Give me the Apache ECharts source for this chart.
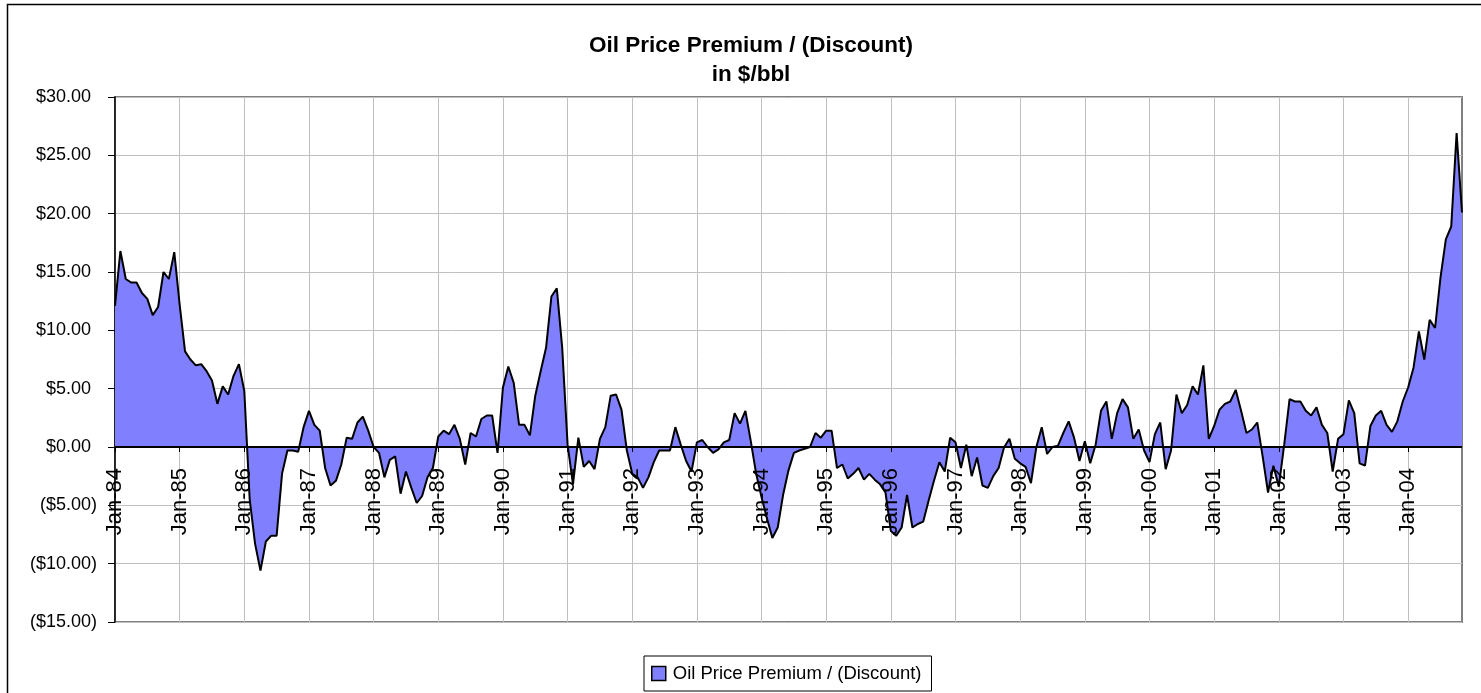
<!DOCTYPE html>
<html lang="en">
<head>
    <meta charset="UTF-8">
    <title>Oil Price Premium / (Discount)</title>
    <script src="https://cdn.jsdelivr.net/npm/echarts@6.0.0/dist/echarts.min.js"></script>
    <style>
        html, body { margin: 0; padding: 0; background: #fff; }
        #main { width: 1481px; height: 693px; }
    </style>
</head>
<body>
<div id="main"></div>
<script type="text/javascript">
    // monthly values, $/bbl (Jan-84 .. Nov-04)
    const v1984 = [12.1, 16.8, 14.4, 14.1, 14.1, 13.2, 12.7, 11.3, 12.0, 15.0, 14.4, 16.7];
    const v1985 = [12.2, 8.2, 7.5, 7.0, 7.1, 6.5, 5.7, 3.7, 5.2, 4.5, 6.1, 7.1];
    const v1986 = [4.8, -4.5, -8.3, -10.6, -8.1, -7.6, -7.6, -2.3, -0.3, -0.3, -0.4, 1.7];
    const v1987 = [3.1, 1.9, 1.4, -1.8, -3.3, -2.9, -1.5, 0.8, 0.7, 2.1, 2.6, 1.4];
    const v1988 = [0.0, -0.5, -2.6, -1.1, -0.8, -4.0, -2.1, -3.5, -4.8, -4.2, -2.6, -1.8];
    const v1989 = [0.9, 1.4, 1.1, 1.9, 0.7, -1.5, 1.2, 0.9, 2.4, 2.7, 2.7, -0.5];
    const v1990 = [5.1, 6.9, 5.5, 1.9, 1.9, 1.0, 4.4, 6.5, 8.5, 12.9, 13.6, 8.5];
    const v1991 = [0.2, -3.2, 0.8, -1.7, -1.2, -1.9, 0.7, 1.7, 4.4, 4.5, 3.2, -0.3];
    const v1992 = [-2.3, -2.6, -3.5, -2.6, -1.3, -0.3, -0.3, -0.3, 1.7, 0.2, -1.2, -2.1];
    const v1993 = [0.4, 0.6, 0.0, -0.5, -0.2, 0.4, 0.6, 2.9, 2.0, 3.1, 0.5, -2.3];
    const v1994 = [-4.3, -6.1, -7.8, -6.9, -4.1, -2.0, -0.5, -0.3, -0.15, 0.0, 1.2, 0.8];
    const v1995 = [1.4, 1.4, -1.8, -1.5, -2.7, -2.3, -1.8, -2.8, -2.3, -2.8, -3.2, -3.9];
    const v1996 = [-7.2, -7.6, -6.9, -4.1, -6.9, -6.6, -6.4, -4.6, -2.9, -1.3, -2.1, 0.8];
    const v1997 = [0.4, -1.8, 0.2, -2.5, -0.9, -3.3, -3.5, -2.5, -1.8, -0.05, 0.7, -1.0];
    const v1998 = [-1.4, -1.7, -3.1, 0.0, 1.7, -0.6, 0.0, 0.1, 1.2, 2.2, 0.8, -1.2];
    const v1999 = [0.5, -1.4, 0.2, 3.1, 3.9, 0.7, 2.9, 4.1, 3.4, 0.7, 1.5, -0.3];
    const v2000 = [-1.3, 1.1, 2.1, -1.9, -0.3, 4.5, 2.9, 3.6, 5.2, 4.5, 7.0, 0.7];
    const v2001 = [1.8, 3.2, 3.7, 3.9, 4.9, 3.1, 1.2, 1.5, 2.1, -0.8, -3.9, -1.6];
    const v2002 = [-3.4, 0.2, 4.1, 3.9, 3.9, 3.1, 2.7, 3.4, 1.9, 1.2, -2.1, 0.7];
    const v2003 = [1.1, 4.0, 2.9, -1.4, -1.6, 1.8, 2.7, 3.1, 1.9, 1.3, 2.2, 3.9];
    const v2004 = [5.1, 6.8, 9.9, 7.5, 10.9, 10.2, 14.5, 17.8, 18.9, 26.9, 20.1];

    const monthNames = ['Jan', 'Feb', 'Mar', 'Apr', 'May', 'Jun', 'Jul', 'Aug', 'Sep', 'Oct', 'Nov', 'Dec'];
    const firstYear = 1984;
    const seriesName = 'Oil Price Premium / (Discount)';
    const yMin = -15, yMax = 30, yStep = 5;

    const values = [].concat(v1984, v1985, v1986, v1987, v1988, v1989, v1990, v1991, v1992, v1993,
        v1994, v1995, v1996, v1997, v1998, v1999, v2000, v2001, v2002, v2003, v2004);

    // category labels like "Jan-84"
    const months = values.map((v, i) => {
        const yy = String((firstYear + Math.floor(i / 12)) % 100).padStart(2, '0');
        return monthNames[i % 12] + '-' + yy;
    });

    const FONT = 'Liberation Sans, Arial, sans-serif';
    const gridTop = 97, gridBottom = 71;
    const gridHeight = 693 - gridTop - gridBottom;
    // the date axis sits on the $0 line, not at the bottom of the plot
    const zeroOffset = -gridHeight * (0 - yMin) / (yMax - yMin);

    function money(v) {
        if (v < 0) return '{n|($' + (-v).toFixed(2) + ')}';
        return '{p|$' + v.toFixed(2) + '}';
    }

    var chart = echarts.init(document.getElementById('main'));
    var option = {
        animation: false,
        backgroundColor: '#fff',
        textStyle: { fontFamily: FONT, color: '#000' },
        title: {
            text: 'Oil Price Premium / (Discount)\nin $/bbl',
            left: 746,
            top: 26,
            textAlign: 'center',
            textStyle: {
                fontFamily: FONT,
                fontWeight: 'bold',
                fontSize: 22.5,
                lineHeight: 29,
                color: '#000'
            }
        },
        legend: {
            data: [seriesName],
            left: 644,
            top: 656,
            padding: [8, 10, 8, 7],
            icon: 'rect',
            itemWidth: 14,
            itemHeight: 14,
            borderColor: '#000',
            borderWidth: 1,
            itemStyle: { color: '#8080FF', borderColor: '#000', borderWidth: 1.5 },
            textStyle: { fontFamily: FONT, fontSize: 18.5, color: '#000', padding: [0, 0, 0, 2] }
        },
        grid: {
            left: 115,
            right: 19,
            top: gridTop,
            bottom: gridBottom,
            outerBoundsMode: 'none',
            containLabel: false,
            show: true,
            borderColor: '#808080',
            borderWidth: 2,
            backgroundColor: '#fff'
        },
        xAxis: [
            {
                // gridlines only, kept under the filled area
                type: 'category',
                data: months,
                boundaryGap: false,
                position: 'bottom',
                offset: zeroOffset,
                axisLine: { show: false, onZero: false },
                axisTick: { show: false },
                axisLabel: { show: false },
                splitLine: { show: true, interval: 11, lineStyle: { color: '#c0c0c0', width: 1 } }
            },
            {
                // ticks and date labels, drawn over the area like the original
                type: 'category',
                data: months,
                boundaryGap: false,
                position: 'bottom',
                offset: zeroOffset,
                z: 10,
                axisLine: { show: false, onZero: false },
                axisTick: { show: true, interval: 11, length: 5, lineStyle: { color: '#000' } },
                axisLabel: {
                    interval: 11,
                    rotate: 90,
                    margin: 21,
                    fontFamily: FONT,
                    fontSize: 22,
                    color: '#000'
                },
                splitLine: { show: false }
            }
        ],
        yAxis: {
            type: 'value',
            min: yMin,
            max: yMax,
            interval: yStep,
            axisLine: { show: true, lineStyle: { color: '#000', width: 1.5 } },
            axisTick: { show: true, length: 7, lineStyle: { color: '#000' } },
            axisLabel: {
                margin: 18,
                formatter: money,
                rich: {
                    p: { fontFamily: FONT, fontSize: 18, color: '#000', padding: [0, 6, 0, 0] },
                    n: { fontFamily: FONT, fontSize: 18, color: '#000' }
                }
            },
            splitLine: { show: true, lineStyle: { color: '#c0c0c0', width: 1 } }
        },
        series: [
            {
                name: seriesName,
                type: 'line',
                xAxisIndex: 0,
                data: values,
                color: '#8080FF',
                symbol: 'none',
                lineStyle: { color: '#000', width: 2 },
                areaStyle: { color: '#8080FF', opacity: 1, origin: 'auto' },
                markLine: {
                    silent: true,
                    symbol: 'none',
                    label: { show: false },
                    lineStyle: { color: '#000', width: 2, type: 'solid' },
                    data: [{ yAxis: 0 }]
                }
            }
        ],
        graphic: [
            {
                type: 'rect',
                shape: { x: 7.5, y: 4.5, width: 1490, height: 710 },
                style: { fill: null, stroke: '#000', lineWidth: 1.5 },
                silent: true
            }
        ]
    };
    chart.setOption(option);
</script>
</body>
</html>
